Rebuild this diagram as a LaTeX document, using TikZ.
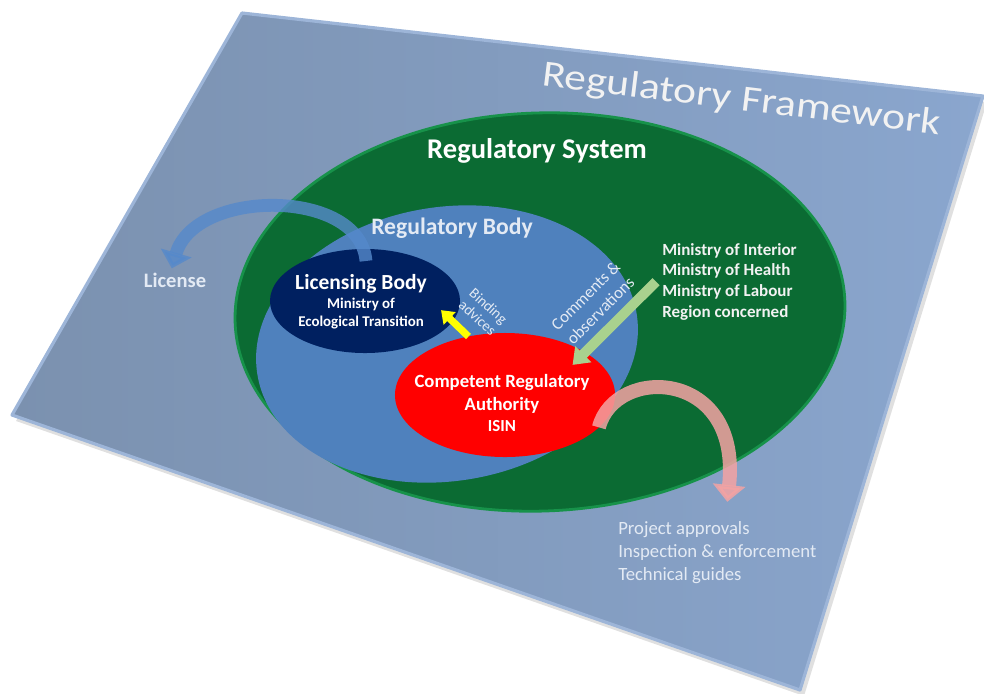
\documentclass[tikz,border=0pt]{standalone}
\usepackage{fontspec}
\setmainfont{Carlito}
\usetikzlibrary{arrows.meta,positioning,shapes.geometric}
\definecolor{planeL}{HTML}{7B91AF}
\definecolor{planeR}{HTML}{8AA6CE}
\definecolor{planeedge}{HTML}{9DB5D8}
\definecolor{sysgreen}{HTML}{0B6B33}
\definecolor{sysedge}{HTML}{17924A}
\definecolor{bodyblue}{HTML}{4F81BD}
\definecolor{licnavy}{HTML}{002060}
\definecolor{crared}{HTML}{FF0000}
\definecolor{licblue}{HTML}{5589CB}
\definecolor{taskpink}{HTML}{F4A3A3}
\definecolor{obsgreen}{HTML}{A9D18E}
\definecolor{bindyellow}{HTML}{FFFF00}
\definecolor{softwhite}{HTML}{E3EAF4}
\begin{document}
\begin{tikzpicture}[x=0.025cm, y=-0.025cm,
    zone/.style={ellipse, inner sep=0pt, outer sep=0pt},
    caption/.style={inner sep=0pt, anchor=base, text=white},
    licarrow/.style={color=licblue, opacity=0.8, line width=0.32cm, -{Triangle[width=0.78cm, length=0.4cm]}},
    taskarrow/.style={color=taskpink, opacity=0.85, line width=0.35cm, -{Triangle[width=0.8cm, length=0.42cm]}},
    bindarrow/.style={color=bindyellow, line width=0.18cm, -{Triangle[width=0.42cm, length=0.3cm]}},
    obsarrow/.style={color=obsgreen, line width=0.25cm, -{Triangle[width=0.55cm, length=0.38cm]}}]
\useasboundingbox (0,0) rectangle (984,693);
% framework plane
\fill[black, opacity=0.12, shift={(4,6)}] (242,13) -- (983,96) -- (800,690) -- (12,415) -- cycle;
\shade[left color=planeL, right color=planeR] (242,13) -- (983,96) -- (800,690) -- (12,415) -- cycle;
\draw[planeedge, line width=0.08cm, line join=round] (242,13) -- (983,96) -- (800,690) -- (12,415) -- cycle;
% nested zones
\node[zone, fill=sysgreen, draw=sysedge, line width=0.07cm, minimum width=15.25cm, minimum height=9.95cm, rotate=2] (sys) at (540,312) {};
\node[zone, fill=bodyblue, minimum width=9.6cm, minimum height=6.85cm, rotate=9] (body) at (447,344) {};
\node[zone, fill=licnavy, minimum width=4.75cm, minimum height=2.6cm] (lic) at (365,301) {};
\node[zone, fill=crared, minimum width=5.5cm, minimum height=3.1cm] (cra) at (505,395) {};
% texts
\node[caption, text=white!95!black, rotate=-7, yscale=0.85, font=\fontsize{31}{36}\selectfont] (frame) at (740,110) {Regulatory Framework};
\node[caption, font=\fontsize{20.3}{24}\selectfont\bfseries] (systitle) at (537,158) {Regulatory System};
\node[caption, text=softwhite, font=\fontsize{16.8}{20}\selectfont\bfseries] (bodytitle) at (452,234) {Regulatory Body};
\node[caption, font=\fontsize{15.3}{18}\selectfont\bfseries] (lictitle) at (361,289) {Licensing Body};
\node[caption, font=\fontsize{10.6}{13}\selectfont\bfseries] (licmin) at (361,308) {Ministry of};
\node[caption, font=\fontsize{10.6}{13}\selectfont\bfseries] (licmin2) at (361,326) {Ecological Transition};
\node[caption, font=\fontsize{13.3}{16}\selectfont\bfseries] (craname) at (502,387) {Competent Regulatory};
\node[caption, font=\fontsize{13.3}{16}\selectfont\bfseries] (craname2) at (502,410) {Authority};
\node[caption, font=\fontsize{12}{14}\selectfont\bfseries] (craname3) at (502,431) {ISIN};
\node[caption, text=softwhite, font=\fontsize{14.6}{17}\selectfont\bfseries] (license) at (175,287) {License};
\node[inner sep=0.15cm, anchor=north west, align=left, text=white!95!black, font=\fontsize{12.1}{14.7}\selectfont\bfseries] (mins) at (656,237) {Ministry of Interior\\Ministry of Health\\Ministry of Labour\\Region concerned};
\node[inner sep=0pt, anchor=north west, align=left, text=softwhite, font=\fontsize{13.3}{16.6}\selectfont] (tasks) at (618,521) {Project approvals\\Inspection \& enforcement\\Technical guides};
\node[rotate=-42, align=center, text=softwhite, font=\fontsize{10.5}{11.5}\selectfont] (binding) at (483,312) {Binding\\advices};
\node[rotate=45, align=center, text=softwhite, font=\fontsize{12}{15}\selectfont] (comments) at (593,303) {Comments \&\\observations};
% arrows
\coordinate[above left=0.1cm and 0.08cm of license.north] (lictip);
\coordinate[above right=0.48cm and 0.25cm of tasks.north] (tasktip);
\draw[licarrow, shorten <=-0.3cm] (lic.north) .. controls (360,188) and (195,188) .. (lictip);
\draw[taskarrow] (cra.-19) .. controls (615,365) and (742,368) .. (tasktip);
\draw[bindarrow, shorten >=-0.4cm] (cra.122) -- (lic.-13);
\draw[obsarrow, shorten >=-0.44cm] (mins.west) -- (cra.28);
\end{tikzpicture}
\end{document}
